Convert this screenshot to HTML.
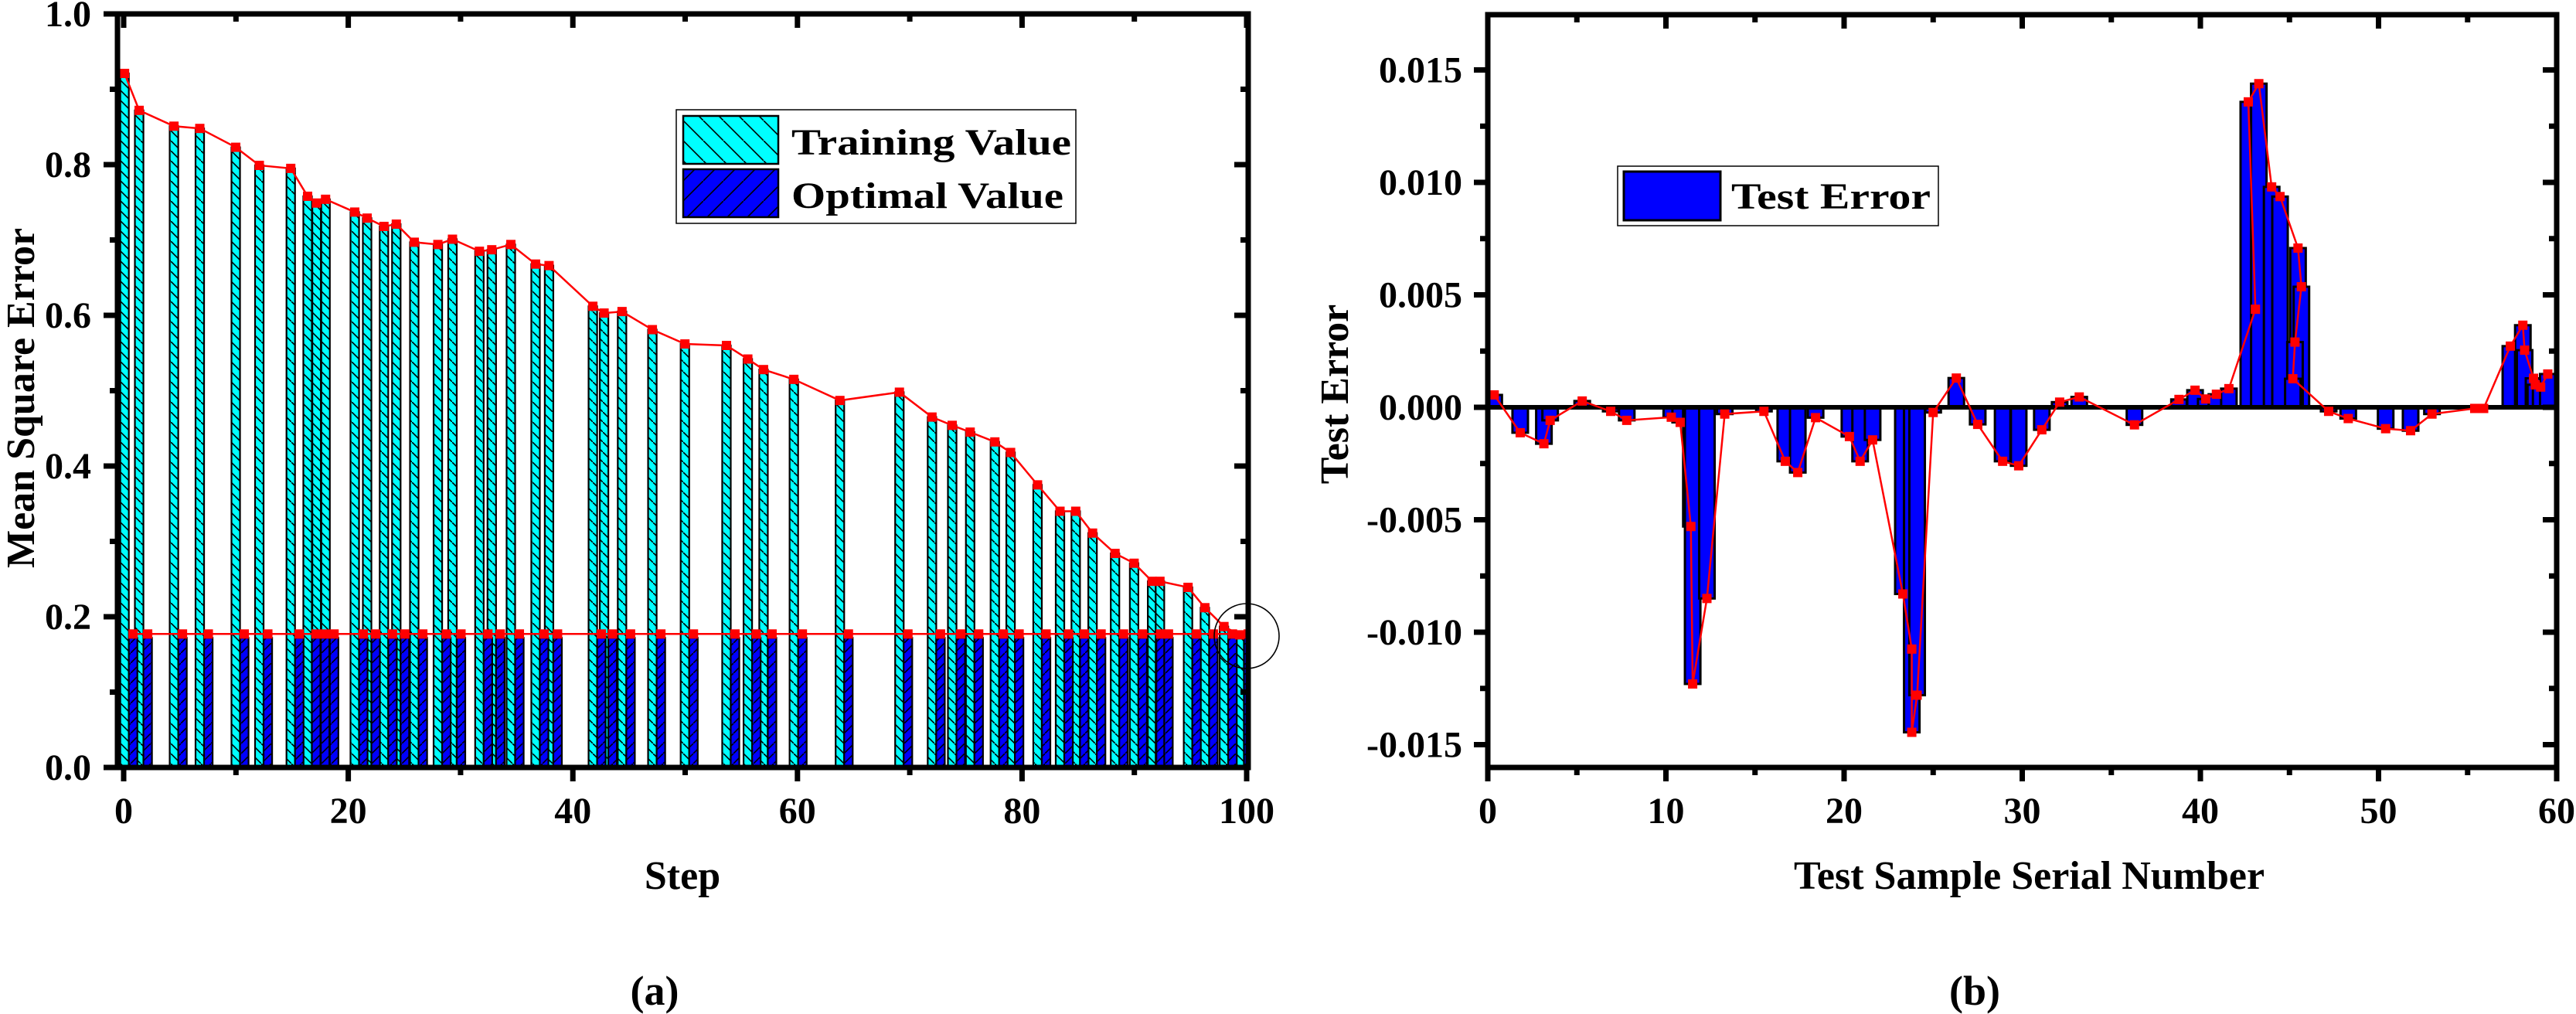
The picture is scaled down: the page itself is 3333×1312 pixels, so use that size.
<!DOCTYPE html>
<html><head><meta charset="utf-8"><title>MSE and Test Error</title>
<style>
html,body{margin:0;padding:0;background:#fff;}
svg{display:block;}
text{font-family:"Liberation Serif","DejaVu Serif",serif;font-weight:bold;fill:#000;}
</style></head>
<body>
<svg id="fig" width="3333" height="1312" viewBox="0 0 3333 1312" xmlns="http://www.w3.org/2000/svg">
<defs>
<pattern id="hatchBack" patternUnits="userSpaceOnUse" width="13" height="13">
<rect width="13" height="13" fill="#00ffff"/>
<line x1="0" y1="0" x2="13" y2="13" stroke="#000" stroke-width="1.6"/>
</pattern>
<pattern id="hatchFwd" patternUnits="userSpaceOnUse" width="13" height="13">
<rect width="13" height="13" fill="#0000ff"/>
<line x1="0" y1="13" x2="13" y2="0" stroke="#000" stroke-width="1.6"/>
</pattern>
<pattern id="legBack" patternUnits="userSpaceOnUse" width="26" height="26">
<rect width="26" height="26" fill="#00ffff"/>
<line x1="0" y1="0" x2="26" y2="26" stroke="#000" stroke-width="1.6"/>
</pattern>
<pattern id="legFwd" patternUnits="userSpaceOnUse" width="26" height="26">
<rect width="26" height="26" fill="#0000ff"/>
<line x1="0" y1="26" x2="26" y2="0" stroke="#000" stroke-width="1.6"/>
</pattern>
<clipPath id="clipA"><rect x="152" y="18" width="1463" height="975"/></clipPath>
<clipPath id="clipB"><rect x="1925" y="19" width="1383" height="974"/></clipPath>
</defs>
<g id="chartA"></g>
<g id="chartB"></g>
</svg>
<script>
// ---- Chart (a) data ----
const stepValues = [0,1.3,4.4,6.7,9.9,12.0,14.8,16.3,17.1,17.9,20.5,21.6,23.1,24.2,25.8,27.9,29.2,31.6,32.7,34.4,36.6,37.8,41.7,42.7,44.3,47.0,49.9,53.6,55.5,56.9,59.6,63.7,69.0,71.9,73.7,75.3,77.5,78.9,81.3,83.3,84.7,86.2,88.2,89.9,91.5,92.2,94.7,96.2,97.9,99.3];
const trainingValues = [0.921,0.872,0.851,0.848,0.823,0.799,0.795,0.758,0.749,0.754,0.737,0.729,0.718,0.721,0.697,0.694,0.701,0.685,0.687,0.694,0.668,0.666,0.612,0.603,0.605,0.581,0.562,0.560,0.542,0.528,0.515,0.487,0.498,0.465,0.454,0.445,0.432,0.418,0.375,0.340,0.340,0.311,0.284,0.271,0.247,0.247,0.239,0.212,0.187,0.176];
const optimalValues = [0.172,0.172,0.172,0.172,0.172,0.172,0.172,0.172,0.172,0.172,0.172,0.172,0.172,0.172,0.172,0.172,0.172,0.172,0.172,0.172,0.172,0.172,0.172,0.172,0.172,0.172,0.172,0.172,0.172,0.172,0.172,0.172,0.172,0.172,0.172,0.172,0.172,0.172,0.172,0.172,0.172,0.172,0.172,0.172,0.172,0.172,0.172,0.172,0.172,0.172];
const aYTicks = [0.0,0.2,0.4,0.6,0.8,1.0];
const aYTickLabels = ["0.0","0.2","0.4","0.6","0.8","1.0"];
const aXTicks = [0,20,40,60,80,100];
const aXTickLabels = ["0","20","40","60","80","100"];

// ---- Chart (b) data ----
const sampleX = [0.36,1.82,3.15,3.5,5.3,6.9,7.8,10.3,10.8,11.4,11.5,12.3,13.3,15.5,16.7,17.4,18.4,20.3,20.9,21.6,23.3,23.8,23.8,24.1,25.0,26.3,27.5,28.9,29.8,31.1,32.1,33.2,36.3,38.8,39.7,40.3,40.9,41.6,43.09,42.69,43.28,44.0,44.47,45.48,45.67,45.31,45.19,47.2,48.3,50.4,51.8,53.0,55.4,55.9,57.4,58.1,58.2,58.7,58.8,59.1,59.5];
const testErrors = [0.00055,-0.00113,-0.00162,-0.00058,0.00028,-0.00018,-0.00058,-0.00044,-0.00067,-0.0053,-0.0123,-0.0085,-0.0003,-0.00018,-0.0024,-0.0029,-0.00046,-0.0013,-0.0024,-0.00145,-0.0083,-0.01075,-0.01445,-0.0128,-0.00023,0.0013,-0.00076,-0.0024,-0.0026,-0.001,0.00023,0.00046,-0.00078,0.00035,0.00076,0.00037,0.00058,0.00083,0.00436,0.01358,0.01439,0.0098,0.00937,0.00708,0.00536,0.0029,0.00127,-0.00018,-0.0005,-0.00095,-0.00104,-0.0003,-0.00005,-0.00005,0.00272,0.00365,0.00254,0.00129,0.001,0.0009,0.00148];
const bYTicks = [-0.015,-0.010,-0.005,0.000,0.005,0.010,0.015];
const bYTickLabels = ["-0.015","-0.010","-0.005","0.000","0.005","0.010","0.015"];
const bXTicks = [0,10,20,30,40,50,60];
const bXTickLabels = ["0","10","20","30","40","50","60"];

const NS = "http://www.w3.org/2000/svg";
function mk(tag, attrs, parent){
  const e = document.createElementNS(NS, tag);
  for (const k in attrs) e.setAttribute(k, attrs[k]);
  parent.appendChild(e);
  return e;
}

// ================= Chart A =================
(function(){
  const g = document.getElementById('chartA');
  const L=152, R=1615, T=18, B=993;
  const xA = v => 160 + v*14.53;
  const yA = v => 993 - v*975;
  const u = 14.53;

  const bars = mk('g', {'clip-path':'url(#clipA)'}, g);
  
  
  for (let i=0;i<stepValues.length;i++){
    const x = xA(stepValues[i]);
    const r = mk('rect', {x:x-0.3*u, y:yA(trainingValues[i]), width:0.76*u, height:yA(0)-yA(trainingValues[i]), fill:'url(#hatchBack)', stroke:'#000', 'stroke-width':2.2}, bars);
    
    
  }
  for (let i=0;i<stepValues.length;i++){
    const x = xA(stepValues[i]);
    const r = mk('rect', {x:x+0.46*u, y:yA(optimalValues[i]), width:0.76*u, height:yA(0)-yA(optimalValues[i]), fill:'url(#hatchFwd)', stroke:'#000', 'stroke-width':2.2}, bars);
    
    
  }
  let d='';
  for (let i=0;i<stepValues.length;i++){
    d += (i?'L':'M') + (xA(stepValues[i])+0.08*u) + ' ' + yA(trainingValues[i]);
  }
  const tl = mk('path', {d:d, fill:'none', stroke:'#ff0000', 'stroke-width':2.5}, bars);
  
  
  let d2='';
  for (let i=0;i<stepValues.length;i++){
    d2 += (i?'L':'M') + (xA(stepValues[i])+0.84*u) + ' ' + (yA(optimalValues[i])-5);
  }
  const ol = mk('path', {d:d2, fill:'none', stroke:'#ff0000', 'stroke-width':2.5}, bars);
  
  
  for (let i=0;i<stepValues.length;i++){
    const m = mk('rect', {x:xA(stepValues[i])+0.08*u-6, y:yA(trainingValues[i])-6, width:12, height:12, fill:'#ff0000'}, bars);
    
    
    const m2 = mk('rect', {x:xA(stepValues[i])+0.84*u-6, y:yA(optimalValues[i])-11, width:12, height:12, fill:'#ff0000'}, bars);
    
    
  }
  const c = mk('circle', {cx:1613, cy:823, r:42, fill:'none', stroke:'#000', 'stroke-width':1.6}, g);
  
  

  const fr = mk('rect', {x:L, y:T, width:R-L, height:B-T, fill:'none', stroke:'#000', 'stroke-width':7}, g);
  
  
  for (let i=0;i<aYTicks.length;i++){
    const y = yA(aYTicks[i]);
    mk('line', {x1:L-18, y1:y, x2:L, y2:y, stroke:'#000', 'stroke-width':7}, g);
    mk('line', {x1:R, y1:y, x2:R-18, y2:y, stroke:'#000', 'stroke-width':7}, g);
    const t = mk('text', {x:118, y:y+16, 'text-anchor':'end', 'font-size':48}, g);
    t.textContent = aYTickLabels[i];
    
    
    if (i < aYTicks.length-1){
      const ym = yA((aYTicks[i]+aYTicks[i+1])/2);
      mk('line', {x1:L-10, y1:ym, x2:L, y2:ym, stroke:'#000', 'stroke-width':7}, g);
      mk('line', {x1:R, y1:ym, x2:R-10, y2:ym, stroke:'#000', 'stroke-width':7}, g);
    }
  }
  for (let i=0;i<aXTicks.length;i++){
    const x = xA(aXTicks[i]);
    mk('line', {x1:x, y1:B, x2:x, y2:B+18, stroke:'#000', 'stroke-width':7}, g);
    mk('line', {x1:x, y1:T, x2:x, y2:T+18, stroke:'#000', 'stroke-width':7}, g);
    const t = mk('text', {x:x, y:1065, 'text-anchor':'middle', 'font-size':48}, g);
    t.textContent = aXTickLabels[i];
    
    
    if (i < aXTicks.length-1){
      const xm = xA((aXTicks[i]+aXTicks[i+1])/2);
      mk('line', {x1:xm, y1:B, x2:xm, y2:B+10, stroke:'#000', 'stroke-width':7}, g);
      mk('line', {x1:xm, y1:T, x2:xm, y2:T+10, stroke:'#000', 'stroke-width':7}, g);
    }
  }
  const xt = mk('text', {x:883, y:1150, 'text-anchor':'middle', 'font-size':52}, g);
  xt.textContent = 'Step';
  
  
  const yt = mk('text', {x:0, y:0, 'text-anchor':'middle', 'font-size':52, transform:'translate(44,515) rotate(-90)'}, g);
  yt.textContent = 'Mean Square Error';
  
  
  const cap = mk('text', {x:847, y:1300, 'text-anchor':'middle', 'font-size':54}, g);
  cap.textContent = '(a)';
  
  

  const lg = mk('g', {}, g);
  
  
  mk('rect', {x:875, y:142, width:517, height:147, fill:'#fff', stroke:'#000', 'stroke-width':1.5}, lg);
  const s1 = mk('rect', {x:884, y:150, width:123, height:62, fill:'url(#legBack)', stroke:'#000', 'stroke-width':2.5}, lg);
  
  
  const s2 = mk('rect', {x:884, y:219, width:123, height:62, fill:'url(#legFwd)', stroke:'#000', 'stroke-width':2.5}, lg);
  
  
  const l1 = mk('text', {x:1024, y:200, 'font-size':48, textLength:362, lengthAdjust:'spacingAndGlyphs'}, lg);
  l1.textContent = 'Training Value';
  
  
  const l2 = mk('text', {x:1024, y:269, 'font-size':48, textLength:352, lengthAdjust:'spacingAndGlyphs'}, lg);
  l2.textContent = 'Optimal Value';
  
  
})();

// ================= Chart B =================
(function(){
  const g = document.getElementById('chartB');
  const L=1925, R=3308, T=19, B=993;
  const xB = v => 1925 + v*23.05;
  const yB = v => 527 - v*29100;
  const u = 23.05;

  const plot = mk('g', {'clip-path':'url(#clipB)'}, g);
  
  
  for (let i=0;i<sampleX.length;i++){
    const x = xB(sampleX[i]);
    const y0 = yB(0), y1 = yB(testErrors[i]);
    const r = mk('rect', {x:x-0.435*u, y:Math.min(y0,y1), width:0.87*u, height:Math.abs(y1-y0), fill:'#0000ff', stroke:'#000', 'stroke-width':3}, plot);
    
    
  }
  const zl = mk('line', {x1:L, y1:yB(0), x2:R, y2:yB(0), stroke:'#000', 'stroke-width':6}, plot);
  
  
  let d='';
  for (let i=0;i<sampleX.length;i++){
    d += (i?'L':'M') + xB(sampleX[i]) + ' ' + yB(testErrors[i]);
  }
  const ln = mk('path', {d:d, fill:'none', stroke:'#ff0000', 'stroke-width':2.5}, plot);
  
  
  for (let i=0;i<sampleX.length;i++){
    const m = mk('rect', {x:xB(sampleX[i])-6, y:yB(testErrors[i])-6, width:12, height:12, fill:'#ff0000'}, plot);
    
    
  }

  const fr = mk('rect', {x:L, y:T, width:R-L, height:B-T, fill:'none', stroke:'#000', 'stroke-width':7}, g);
  
  
  for (let i=0;i<bYTicks.length;i++){
    const y = yB(bYTicks[i]);
    mk('line', {x1:L-18, y1:y, x2:L, y2:y, stroke:'#000', 'stroke-width':7}, g);
    mk('line', {x1:R, y1:y, x2:R-18, y2:y, stroke:'#000', 'stroke-width':7}, g);
    const t = mk('text', {x:1892, y:y+16, 'text-anchor':'end', 'font-size':48}, g);
    t.textContent = bYTickLabels[i];
    
    
  }
  const bMinor = [-0.0175,-0.0125,-0.0075,-0.0025,0.0025,0.0075,0.0125,0.0175];
  for (let i=0;i<bMinor.length;i++){
    const ym = yB(bMinor[i]);
    if (ym < T+2 || ym > B-2) continue;
    mk('line', {x1:L-10, y1:ym, x2:L, y2:ym, stroke:'#000', 'stroke-width':7}, g);
    mk('line', {x1:R, y1:ym, x2:R-10, y2:ym, stroke:'#000', 'stroke-width':7}, g);
  }
  for (let i=0;i<bXTicks.length;i++){
    const x = xB(bXTicks[i]);
    mk('line', {x1:x, y1:B, x2:x, y2:B+18, stroke:'#000', 'stroke-width':7}, g);
    mk('line', {x1:x, y1:T, x2:x, y2:T+18, stroke:'#000', 'stroke-width':7}, g);
    const t = mk('text', {x:x, y:1065, 'text-anchor':'middle', 'font-size':48}, g);
    t.textContent = bXTickLabels[i];
    
    
    if (i < bXTicks.length-1){
      const xm = xB((bXTicks[i]+bXTicks[i+1])/2);
      mk('line', {x1:xm, y1:B, x2:xm, y2:B+10, stroke:'#000', 'stroke-width':7}, g);
      mk('line', {x1:xm, y1:T, x2:xm, y2:T+10, stroke:'#000', 'stroke-width':7}, g);
    }
  }
  const xt = mk('text', {x:2321, y:1150, 'font-size':52}, g);
  xt.textContent = 'Test Sample Serial Number';
  
  
  const yt = mk('text', {x:0, y:0, 'text-anchor':'middle', 'font-size':52, transform:'translate(1744,510) rotate(-90)'}, g);
  yt.textContent = 'Test Error';
  
  
  const cap = mk('text', {x:2555, y:1300, 'text-anchor':'middle', 'font-size':54}, g);
  cap.textContent = '(b)';
  
  

  const lg = mk('g', {}, g);
  
  
  mk('rect', {x:2093, y:215, width:415, height:77, fill:'#fff', stroke:'#000', 'stroke-width':1.5}, lg);
  const sw = mk('rect', {x:2101, y:222, width:125, height:63, fill:'#0000ff', stroke:'#000', 'stroke-width':3}, lg);
  
  
  const lt = mk('text', {x:2240, y:270, 'font-size':48, textLength:258, lengthAdjust:'spacingAndGlyphs'}, lg);
  lt.textContent = 'Test Error';
  
  
})();
</script>
</body></html>
